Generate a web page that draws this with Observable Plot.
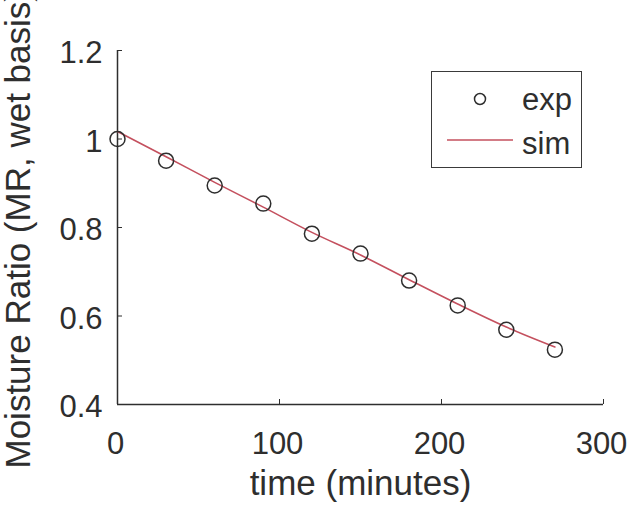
<!DOCTYPE html>
<html>
<head>
<meta charset="utf-8">
<script src="https://cdn.jsdelivr.net/npm/d3@7"></script>
<script src="https://cdn.jsdelivr.net/npm/@observablehq/plot@0.6"></script>
<style>
  html, body { margin: 0; padding: 0; background: #fff; }
  #wrap { position: relative; width: 632px; height: 508px; overflow: hidden; font-family: "Liberation Sans", Arial, sans-serif; }
  #legend { position: absolute; left: 431px; top: 71px; width: 151px; height: 97px; box-sizing: border-box; border: 1.5px solid #3a3a3a; background: #fff; }
</style>
</head>
<body>
<div id="wrap"></div>
<script>
// ---- data ----
const timeExp = [0, 30, 60, 90, 120, 150, 180, 210, 240, 270];
const mrExp   = [1.000, 0.951, 0.895, 0.854, 0.786, 0.741, 0.680, 0.624, 0.569, 0.524];
const timeSim = [0, 30, 60, 90, 120, 150, 180, 210, 240, 270];
const mrSim   = [1.017, 0.960, 0.902, 0.846, 0.789, 0.738, 0.682, 0.627, 0.575, 0.530];
const xTicks = [0, 100, 200, 300];
const xTickLabels = ["0", "100", "200", "300"];
const yTicks = [0.4, 0.6, 0.8, 1, 1.2];
const yTickLabels = ["0.4", "0.6", "0.8", "1", "1.2"];
const xLabel = "time (minutes)";
const yLabel = "Moisture Ratio (MR, wet basis)";
const seriesNames = ["exp", "sim"];

const expData = timeExp.map((t, i) => ({t, mr: mrExp[i]}));
const simData = timeSim.map((t, i) => ({t, mr: mrSim[i]}));

const axisColor = "#2e2e2e";
const simColor = "#c4505e";
const W = 632, H = 508;
const mL = 117, mT = 50, mR = 29, mB = 104;
const frameW = W - mL - mR, frameH = H - mT - mB;
const tickFont = 31, labelFont = 35;

const chart = Plot.plot({
  width: W,
  height: H,
  marginLeft: mL,
  marginTop: mT,
  marginRight: mR,
  marginBottom: mB,
  style: {fontFamily: '"Liberation Sans", Arial, sans-serif', color: axisColor, background: "#fff", overflow: "visible"},
  x: {domain: [0, 300]},
  y: {domain: [0.4, 1.2]},
  marks: [
    Plot.axisX({ticks: xTicks, tickSize: 0, tickPadding: 27, fontSize: tickFont, label: null, dx: -2,
      tickFormat: d => xTickLabels[xTicks.indexOf(d)], fill: axisColor}),
    Plot.axisY({ticks: yTicks, tickSize: 0, tickPadding: 15, fontSize: tickFont, label: null, dy: 3,
      tickFormat: d => yTickLabels[yTicks.findIndex(v => Math.abs(v - d) < 1e-9)], fill: axisColor}),
    Plot.tickX(xTicks, {x: d => d, stroke: axisColor, strokeWidth: 1, insetTop: frameH - 5}),
    Plot.tickY(yTicks, {y: d => d, stroke: axisColor, strokeWidth: 1, insetRight: frameW - 5}),
    Plot.ruleX([0], {stroke: axisColor, strokeWidth: 1.5}),
    Plot.ruleY([0.4], {stroke: axisColor, strokeWidth: 1.5}),
    Plot.line(simData, {x: "t", y: "mr", stroke: simColor, strokeWidth: 1.6, curve: "monotone-x"}),
    Plot.dot(expData, {x: "t", y: "mr", r: 7.5, stroke: axisColor, strokeWidth: 1.5, fill: "none"}),
    Plot.text([xLabel], {frameAnchor: "bottom", dy: 90, fontSize: labelFont, fill: axisColor, text: d => d}),
    Plot.text([yLabel], {frameAnchor: "bottom-left", dx: -88, dy: 64, rotate: -90, textAnchor: "start",
      fontSize: labelFont, fill: axisColor, text: d => d})
  ]
});

const wrap = document.getElementById("wrap");
wrap.appendChild(chart);

// legend
const legend = document.createElement("div");
legend.id = "legend";
const ns = "http://www.w3.org/2000/svg";
const lsvg = document.createElementNS(ns, "svg");
lsvg.setAttribute("width", 148);
lsvg.setAttribute("height", 94);
lsvg.style.display = "block";
const c = document.createElementNS(ns, "circle");
c.setAttribute("cx", 48); c.setAttribute("cy", 27); c.setAttribute("r", 5.5);
c.setAttribute("fill", "none"); c.setAttribute("stroke", axisColor); c.setAttribute("stroke-width", 1.5);
lsvg.appendChild(c);
const ln = document.createElementNS(ns, "line");
ln.setAttribute("x1", 15); ln.setAttribute("x2", 81); ln.setAttribute("y1", 68); ln.setAttribute("y2", 68);
ln.setAttribute("stroke", simColor); ln.setAttribute("stroke-width", 1.6);
lsvg.appendChild(ln);
[[seriesNames[0], 38], [seriesNames[1], 82]].forEach(([s, y]) => {
  const t = document.createElementNS(ns, "text");
  t.setAttribute("x", 90); t.setAttribute("y", y);
  t.setAttribute("font-size", tickFont);
  t.setAttribute("font-family", '"Liberation Sans", Arial, sans-serif');
  t.setAttribute("fill", axisColor);
  t.textContent = s;
  lsvg.appendChild(t);
});
legend.appendChild(lsvg);
wrap.appendChild(legend);
</script>
</body>
</html>
